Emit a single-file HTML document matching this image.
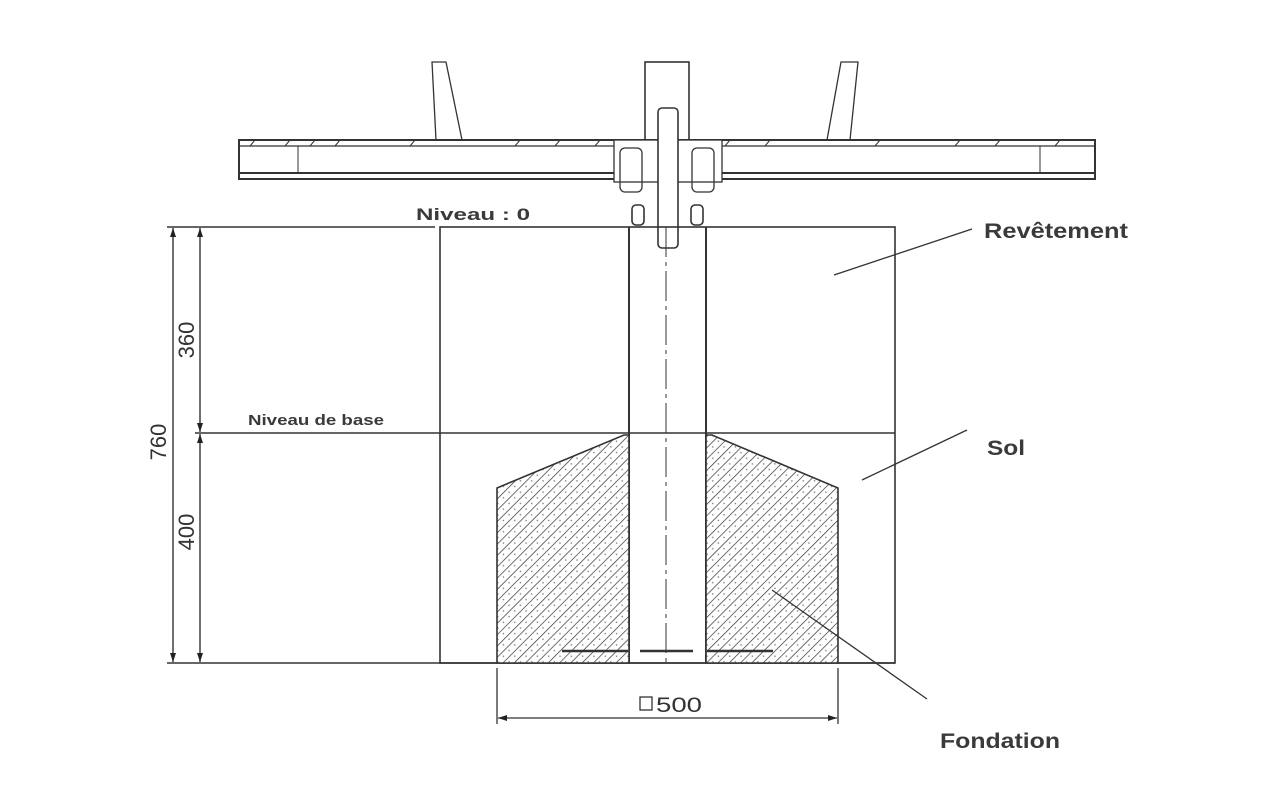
<!DOCTYPE html>
<html><head><meta charset="utf-8"><style>
html,body{margin:0;padding:0;background:#fff;}
svg{display:block;}
.lbl{font-family:"Liberation Sans",sans-serif;font-weight:bold;fill:#3a3a3a;}
.dim{font-family:"Liberation Sans",sans-serif;fill:#333;}
</style></head><body>
<svg width="1280" height="800" viewBox="0 0 1280 800" xmlns="http://www.w3.org/2000/svg">
<defs>
<pattern id="hatch" width="8" height="8" patternUnits="userSpaceOnUse" patternTransform="rotate(45)">
<rect width="8" height="8" fill="#fff"/>
<line x1="0" y1="0" x2="0" y2="8" stroke="#333" stroke-width="1.4"/>
<circle cx="4" cy="4" r="0.8" fill="#777"/>
</pattern>
<marker id="ar" markerWidth="10" markerHeight="8" refX="9" refY="4" orient="auto-start-reverse" markerUnits="userSpaceOnUse">
<path d="M0,1 L9,4 L0,7 Z" fill="#222"/>
</marker>
</defs>
<g stroke="#333" fill="none" stroke-width="1.6">
<path d="M432,62 L446,62 L462,140 L436,140 Z" stroke-width="1.3"/>
<path d="M841,62 L858,62 L850,140 L827,140 Z" stroke-width="1.3"/>
<rect x="645" y="62" width="44" height="78"/>
<rect x="239" y="140" width="856" height="39" stroke-width="2"/>
<line x1="239" y1="146" x2="1095" y2="146" stroke-width="1.2"/>
<line x1="239" y1="173" x2="1095" y2="173" stroke-width="2"/>
<line x1="298" y1="146" x2="298" y2="173" stroke-width="1"/>
<line x1="1040" y1="146" x2="1040" y2="173" stroke-width="1"/>
<line x1="255" y1="140" x2="250" y2="146" stroke-width="1"/>
<line x1="290" y1="140" x2="285" y2="146" stroke-width="1"/>
<line x1="315" y1="140" x2="310" y2="146" stroke-width="1"/>
<line x1="340" y1="140" x2="335" y2="146" stroke-width="1"/>
<line x1="415" y1="140" x2="410" y2="146" stroke-width="1"/>
<line x1="520" y1="140" x2="515" y2="146" stroke-width="1"/>
<line x1="560" y1="140" x2="555" y2="146" stroke-width="1"/>
<line x1="600" y1="140" x2="595" y2="146" stroke-width="1"/>
<line x1="730" y1="140" x2="725" y2="146" stroke-width="1"/>
<line x1="770" y1="140" x2="765" y2="146" stroke-width="1"/>
<line x1="880" y1="140" x2="875" y2="146" stroke-width="1"/>
<line x1="960" y1="140" x2="955" y2="146" stroke-width="1"/>
<line x1="1000" y1="140" x2="995" y2="146" stroke-width="1"/>
<line x1="1060" y1="140" x2="1055" y2="146" stroke-width="1"/>
<rect x="614" y="140" width="108" height="42" fill="#fff" stroke-width="1.3"/>
<rect x="658" y="108" width="20" height="140" rx="4" fill="#fff"/>
<rect x="620" y="148" width="22" height="44" rx="5" stroke-width="1.3"/>
<rect x="692" y="148" width="22" height="44" rx="5" stroke-width="1.3"/>
<rect x="632" y="205" width="12" height="20" rx="4"/>
<rect x="691" y="205" width="12" height="20" rx="4"/>
<line x1="167" y1="227" x2="435" y2="227"/>
<rect x="440" y="227" width="455" height="436"/>
<line x1="195" y1="433" x2="895" y2="433"/>
<line x1="167" y1="663" x2="895" y2="663"/>
<line x1="629" y1="227" x2="629" y2="663" stroke-width="2"/>
<line x1="706" y1="227" x2="706" y2="663" stroke-width="2"/>
<line x1="666" y1="227" x2="666" y2="663" stroke-width="1" stroke-dasharray="30,5,4,5"/>
<path d="M497,488 L624,435 L629,435 L629,663 L497,663 Z" fill="url(#hatch)" stroke-width="1.6"/>
<path d="M706,435 L712,435 L838,488 L838,663 L706,663 Z" fill="url(#hatch)" stroke-width="1.6"/>
<line x1="562" y1="651" x2="628" y2="651" stroke-width="2.4"/>
<line x1="640" y1="651" x2="693" y2="651" stroke-width="2.4"/>
<line x1="707" y1="651" x2="773" y2="651" stroke-width="2.4"/>
<line x1="173" y1="228" x2="173" y2="662" stroke-width="1.4" marker-start="url(#ar)" marker-end="url(#ar)"/>
<line x1="200" y1="228" x2="200" y2="432" stroke-width="1.4" marker-start="url(#ar)" marker-end="url(#ar)"/>
<line x1="200" y1="434" x2="200" y2="662" stroke-width="1.4" marker-start="url(#ar)" marker-end="url(#ar)"/>
<line x1="497" y1="668" x2="497" y2="724" stroke-width="1.3"/>
<line x1="838" y1="668" x2="838" y2="724" stroke-width="1.3"/>
<line x1="498" y1="718" x2="837" y2="718" stroke-width="1.3" marker-start="url(#ar)" marker-end="url(#ar)"/>
<rect x="640" y="697" width="12" height="13" stroke-width="1.3"/>
<line x1="972" y1="229" x2="834" y2="275" stroke-width="1.3"/>
<line x1="967" y1="430" x2="862" y2="480" stroke-width="1.3"/>
<line x1="927" y1="699" x2="772" y2="590" stroke-width="1.3"/>
</g>
<text class="dim" x="656" y="712" font-size="21" textLength="46" lengthAdjust="spacingAndGlyphs">500</text>
<text class="dim" font-size="22" transform="translate(194,340) rotate(-90)" text-anchor="middle">360</text>
<text class="dim" font-size="22" transform="translate(194,532) rotate(-90)" text-anchor="middle">400</text>
<text class="dim" font-size="22" transform="translate(166,442) rotate(-90)" text-anchor="middle">760</text>
<text class="lbl" x="416" y="220" font-size="17" textLength="114" lengthAdjust="spacingAndGlyphs">Niveau : 0</text>
<text class="lbl" x="248" y="425" font-size="15" textLength="136" lengthAdjust="spacingAndGlyphs">Niveau de base</text>
<text class="lbl" x="984" y="238" font-size="21" textLength="144" lengthAdjust="spacingAndGlyphs">Revêtement</text>
<text class="lbl" x="987" y="455" font-size="21" textLength="38" lengthAdjust="spacingAndGlyphs">Sol</text>
<text class="lbl" x="940" y="748" font-size="21" textLength="120" lengthAdjust="spacingAndGlyphs">Fondation</text>
</svg>
</body></html>
